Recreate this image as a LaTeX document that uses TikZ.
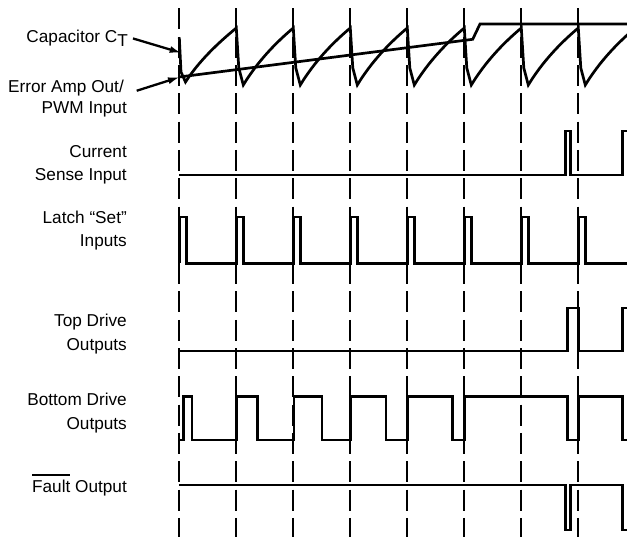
\documentclass[tikz,border=0pt]{standalone}
\usepackage{fontspec}
\setmainfont{Liberation Sans}
\usetikzlibrary{arrows.meta}
\newcommand\olbar[1]{\setbox0=\hbox{#1}\rlap{\rule[\dimexpr\ht0+3.8pt\relax]{\wd0}{1.8pt}}\usebox0}
\begin{document}
\begin{tikzpicture}[x=1pt,y=-1pt,
  wave/.style={line width=2.7pt, line join=miter, line cap=butt},
  gridline/.style={line width=1.8pt, dash pattern=on 21pt off 7.3pt},
  lbl/.style={anchor=base east, inner sep=0pt, font=\fontsize{17.2pt}{20pt}\selectfont},
  ptr/.style={line width=2.3pt, -{Latex[length=12pt,width=7pt]}}]
\useasboundingbox (0,0) rectangle (627,537);
\fill[white] (0,0) rectangle (627,537);
\begin{scope}
\clip (0,0) rectangle (627,537);
% dashed time markers
\foreach \i in {0,...,7}
  \draw[gridline] ({179.3+57*\i},8.5) -- ({179.3+57*\i},545);
% capacitor CT
\draw[wave] (179.3,37.5) -- (181,72) -- (185.5,82)
  .. controls (199,61) and (218,43) .. (236.3,28)
  \foreach \x in {236.3,293.3,350.3,407.3,464.3,521.3,578.3} {
    -- (\x+2.5,68) -- (\x+7,85) .. controls (\x+21,62) and (\x+39,43) .. (\x+57,28) };
% error amp out
\draw[wave] (179.3,77) -- (472.7,39.3) -- (480,24) -- (630,24);
% current sense
\draw[wave] (179.3,175) -- (565.7,175) -- (565.7,131) -- (570.7,131) -- (570.7,175)
  -- (622.7,175) -- (622.7,131) -- (630,131);
% latch set
\draw[wave] (179.3,263.3)
  \foreach \x in {179.3,236.3,293.3,350.3,407.3,464.3,521.3,578.3} {
    -- (\x,263.3) -- (\x,217) -- (\x+7,217) -- (\x+7,263.3) } -- (630,263.3);
% top drive
\draw[wave] (179.3,351) -- (567.3,351) -- (567.3,308) -- (578.3,308) -- (578.3,351)
  -- (622.7,351) -- (622.7,308) -- (630,308);
% bottom drive
\draw[wave] (179.3,440) -- (183.3,440) -- (183.3,396.7) -- (192,396.7) -- (192,440)
  -- (236.5,440) -- (236.5,396.7) -- (257.7,396.7) -- (257.7,440)
  -- (294,440) -- (294,396.7) -- (322,396.7) -- (322,440)
  -- (350.5,440) -- (350.5,396.7) -- (386,396.7) -- (386,440)
  -- (407.3,440) -- (407.3,396.7) -- (452.7,396.7) -- (452.7,440)
  -- (464.5,440) -- (464.5,396.7) -- (567.3,396.7) -- (567.3,440)
  -- (578.3,440) -- (578.3,396.7) -- (622.7,396.7) -- (622.7,440) -- (630,440);
% fault
\draw[wave] (179.3,485) -- (565.7,485) -- (565.7,530) -- (570.7,530) -- (570.7,485)
  -- (622.7,485) -- (622.7,530) -- (630,530);
\end{scope}
% labels
\node[lbl] (capl) at (128,42.5) {Capacitor C\raisebox{-4.5pt}{T}};
\node[lbl] (eao) at (124,92.5) {Error Amp Out/};
\node[lbl] (pwm) at (127,113.5) {PWM Input};
\node[lbl] (cur) at (127,157.5) {Current\ };
\node[lbl] (sen) at (127,180.5) {Sense Input};
\node[lbl] (lat) at (127,224) {Latch “Set”};
\node[lbl] (inp) at (127,247) {Inputs};
\node[lbl] (topd) at (127,327) {Top Drive};
\node[lbl] (out1) at (127,350.5) {Outputs};
\node[lbl] (botd) at (127,405.5) {Bottom Drive};
\node[lbl] (out2) at (127,429) {Outputs};
\node[lbl] (flt) at (127,492) {\olbar{Fault} Output};
% pointers
\coordinate (ctip) at (181.7,53);
\coordinate (etip) at (180,77);
\draw[ptr] ([xshift=5pt,yshift=1.4pt]capl.mid east) -- (ctip);
\draw[ptr] ([xshift=12.7pt,yshift=-0.9pt]eao.mid east) -- (etip);
\end{tikzpicture}
\end{document}
